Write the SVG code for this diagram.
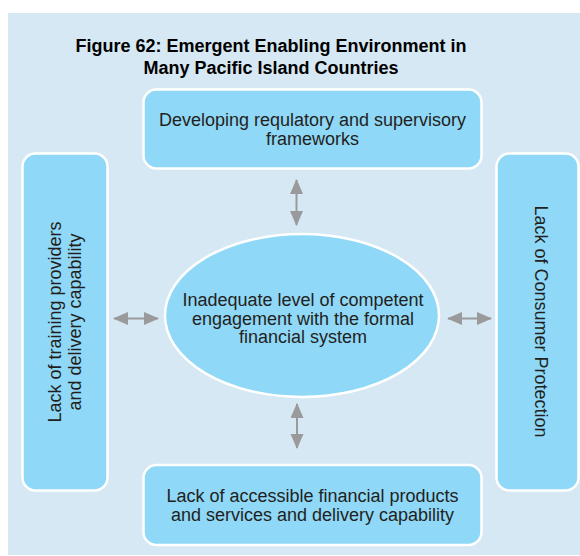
<svg xmlns="http://www.w3.org/2000/svg" width="580" height="556" viewBox="0 0 580 556">
<style>
.box{fill:#8fd8f7;stroke:#ffffff;stroke-width:2.5}
.t{font-family:"Liberation Sans",Arial,sans-serif;font-size:18px;fill:#231f20;text-anchor:middle}
.title{font-family:"Liberation Sans",Arial,sans-serif;font-size:18px;font-weight:bold;fill:#000;text-anchor:middle}
.arr{stroke:#9a9a9c;stroke-width:2;fill:none;marker-start:url(#ah);marker-end:url(#ah)}
</style>
<defs>
<marker id="ah" markerUnits="userSpaceOnUse" markerWidth="16" markerHeight="14" refX="14" refY="6.5" orient="auto-start-reverse" viewBox="0 0 16 14">
<path d="M0,0 L15,6.5 L0,13 Z" fill="#9a9a9c"/>
</marker>
</defs>
<rect x="8" y="13" width="572" height="542" fill="#d6e8f3"/>
<g id="title">
<text class="title" x="271" y="52">Figure 62: Emergent Enabling Environment in</text>
<text class="title" x="271" y="74">Many Pacific Island Countries</text>
</g>
<g id="connectors">
<line class="arr" x1="296.5" y1="180" x2="296.5" y2="225"/>
<line class="arr" x1="297" y1="404" x2="297" y2="448"/>
<line class="arr" x1="114" y1="318.5" x2="158" y2="318.5"/>
<line class="arr" x1="448" y1="318.5" x2="491" y2="318.5"/>
</g>
<g id="top">
<rect class="box" x="143.5" y="89.5" width="338" height="79" rx="13"/>
<text class="t" x="312.5" y="126">Developing requlatory and supervisory</text>
<text class="t" x="312.5" y="144.5">frameworks</text>
</g>
<g id="bottom">
<rect class="box" x="143.5" y="465" width="338" height="80" rx="13"/>
<text class="t" x="312.5" y="502">Lack of accessible financial products</text>
<text class="t" x="312.5" y="521">and services and delivery capability</text>
</g>
<g id="left">
<rect class="box" x="22.5" y="153.5" width="85" height="337" rx="13"/>
<g transform="translate(65,322) rotate(-90)">
<text class="t" x="0" y="-4">Lack of training providers</text>
<text class="t" x="0" y="15.5">and delivery capability</text>
</g>
</g>
<g id="right">
<rect class="box" x="496.5" y="153.5" width="82" height="337" rx="13"/>
<g transform="translate(538,321.5) rotate(90)">
<text class="t" x="0" y="3">Lack of Consumer Protection</text>
</g>
</g>
<g id="center">
<ellipse class="box" cx="302" cy="315.5" rx="137" ry="81.5" stroke-width="1.5"/>
<text class="t" x="303" y="306">Inadequate level of competent</text>
<text class="t" x="303" y="324.5">engagement with the formal</text>
<text class="t" x="303" y="343">financial system</text>
</g>
</svg>
